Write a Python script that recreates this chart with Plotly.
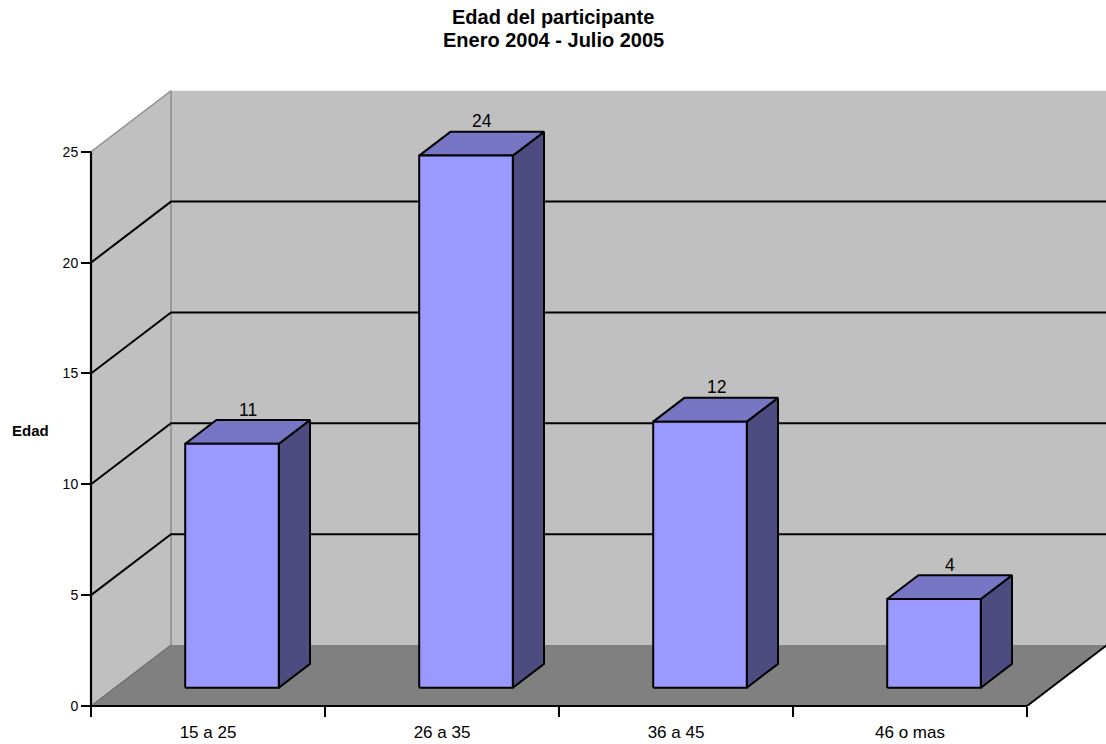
import plotly.graph_objects as go

# ---- chart data ----
categories = ["15 a 25", "26 a 35", "36 a 45", "46 o mas"]
values = [11, 24, 12, 4]
y_ticks = [0, 5, 10, 15, 20, 25]
y_max = 25
title_lines = ["Edad del participante", "Enero 2004 - Julio 2005"]
y_title = "Edad"

# ---- page / plot geometry (pixels) ----
W, H = 1106, 744
ML, MR, MT, MB = 81, 0, 80, 28
PAD = 10                       # gap between plot-area edge and the drawn axes
PLOT_W = W - ML - MR
PLOT_H = H - MT - MB
PX_PER_CAT = 234.0
PX_PER_UNIT = 22.17

# oblique depth of the 3-D box, expressed in axis units
DEPTH_X = 80 / PX_PER_CAT
DEPTH_Y = 61 / PX_PER_UNIT

# bar footprint inside each category cell (fractions of cell width / box depth)
BAR_X0, BAR_X1 = 0.3, 0.7
BAR_Z0, BAR_Z1 = 0.3, 0.69

FONT = "Liberation Sans, Arial, sans-serif"
WALL = "#C0C0C0"
FLOOR = "#808080"
FRONT = "#9999FF"
TOP = "#7676C4"
SIDE = "#4C4C80"

n = len(categories)


def proj(x, v, z):
    """Project a point (category x, value v, depth z in 0..1) onto the axes."""
    return x + z * DEPTH_X, v + z * DEPTH_Y


def path(points, color, width, fill=None, close=False):
    xs, ys = zip(*[proj(*p) for p in points])
    xs, ys = list(xs), list(ys)
    if close:
        xs.append(xs[0])
        ys.append(ys[0])
    kw = dict(x=xs, y=ys, mode="lines", hoverinfo="skip", showlegend=False,
              line=dict(color=color, width=width))
    if fill:
        kw.update(fill="toself", fillcolor=fill)
    return go.Scatter(**kw)


def paper_x(px):
    return (px - ML) / PLOT_W


def paper_y(py):
    return (H - MB - py) / PLOT_H


fig = go.Figure()

# walls and floor
fig.add_trace(path([(0, 0, 0), (0, 0, 1), (0, y_max, 1), (0, y_max, 0)],
                   WALL, 0, fill=WALL, close=True))
fig.add_trace(path([(0, 0, 1), (n, 0, 1), (n, y_max, 1), (0, y_max, 1)],
                   WALL, 0, fill=WALL, close=True))
fig.add_trace(path([(0, 0, 0), (n, 0, 0), (n, 0, 1), (0, 0, 1)],
                   FLOOR, 0, fill=FLOOR, close=True))

# wall edges
fig.add_trace(path([(0, y_max, 0), (0, y_max, 1), (0, 0, 1)], "#8C8C8C", 1.5))
fig.add_trace(path([(0, 0, 0), (0, 0, 1)], "#6E6E6E", 1.2))
fig.add_trace(path([(n, 0, 0), (n, 0, 1)], "black", 2))

# gridlines along the side and back walls
for v in y_ticks[1:-1]:
    fig.add_trace(path([(0, v, 0), (0, v, 1), (n + 1, v, 1)], "black", 2))

# front axis lines
fig.add_trace(path([(0, y_max, 0), (0, 0, 0), (n, 0, 0)], "black", 2.2))

# bars: front, top and side faces
for i, v in enumerate(values):
    x0, x1 = i + BAR_X0, i + BAR_X1
    fig.add_trace(path([(x1, 0, BAR_Z0), (x1, 0, BAR_Z1), (x1, v, BAR_Z1), (x1, v, BAR_Z0)],
                       "black", 2, fill=SIDE, close=True))
    fig.add_trace(path([(x0, v, BAR_Z0), (x1, v, BAR_Z0), (x1, v, BAR_Z1), (x0, v, BAR_Z1)],
                       "black", 2, fill=TOP, close=True))
    fig.add_trace(path([(x0, 0, BAR_Z0), (x1, 0, BAR_Z0), (x1, v, BAR_Z0), (x0, v, BAR_Z0)],
                       "black", 2, fill=FRONT, close=True))

# value labels above each bar
for i, v in enumerate(values):
    lx, ly = proj(i + 0.5, v, 0.5)
    fig.add_annotation(x=lx, y=ly, xref="x", yref="y", text=str(v), showarrow=False,
                       yshift=22, font=dict(family=FONT, size=17.5, color="black"))

# axis title
fig.add_annotation(x=paper_x(30), y=paper_y(430), xref="paper", yref="paper",
                   text=f"<b>{y_title}</b>", showarrow=False, xanchor="center", yanchor="middle",
                   font=dict(family=FONT, size=15, color="black"))

# two-line chart title
for line, cy in zip(title_lines, [17, 40]):
    fig.add_annotation(x=paper_x(W / 2), y=paper_y(cy), xref="paper", yref="paper",
                       text=f"<b>{line}</b>", showarrow=False,
                       xanchor="center", yanchor="middle",
                       font=dict(family=FONT, size=20, color="black"))

fig.update_layout(
    width=W, height=H,
    margin=dict(l=ML, r=MR, t=MT, b=MB),
    paper_bgcolor="white", plot_bgcolor="white",
    showlegend=False,
    xaxis=dict(range=[-PAD / PX_PER_CAT, (PLOT_W - PAD) / PX_PER_CAT],
               tickmode="array", tickvals=[i + 0.5 for i in range(n)], ticktext=categories,
               ticks="", showgrid=False, zeroline=False, showline=False,
               anchor="free", position=PAD / PLOT_H,
               ticklabelstandoff=14,
               tickfont=dict(family=FONT, size=17, color="black"),
               minor=dict(tickmode="array", tickvals=list(range(n + 1)), ticks="outside",
                          ticklen=10, tickwidth=2, tickcolor="black", showgrid=False),
               fixedrange=True),
    yaxis=dict(range=[-PAD / PX_PER_UNIT, (PLOT_H - PAD) / PX_PER_UNIT],
               tickmode="array", tickvals=y_ticks,
               ticks="outside", ticklen=10, tickwidth=2, tickcolor="black",
               showgrid=False, zeroline=False, showline=False,
               anchor="free", position=PAD / PLOT_W,
               tickfont=dict(family=FONT, size=14, color="black"),
               fixedrange=True),
)

fig.write_html("out.html")
